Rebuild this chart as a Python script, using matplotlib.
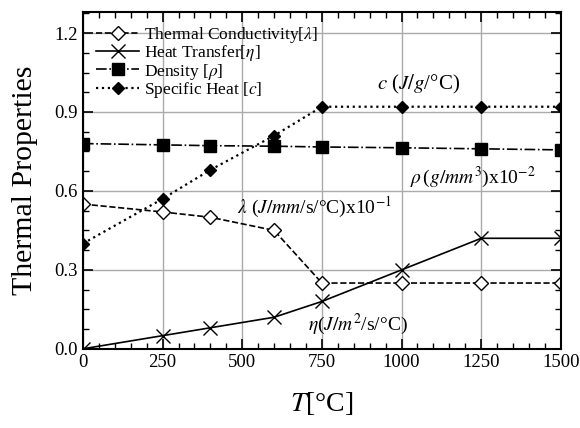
import matplotlib.pyplot as plt
from matplotlib.ticker import MultipleLocator

plt.rcParams["font.family"] = ["Liberation Serif", "DejaVu Serif"]
plt.rcParams["mathtext.fontset"] = "stix"

temps = [0, 250, 400, 600, 750, 1000, 1250, 1500]
conductivity = [0.55, 0.52, 0.50, 0.45, 0.25, 0.25, 0.25, 0.25]
heat_transfer = [0.0, 0.05, 0.08, 0.12, 0.18, 0.30, 0.42, 0.42]
density = [0.78, 0.775, 0.772, 0.77, 0.767, 0.764, 0.76, 0.756]
specific_heat = [0.40, 0.57, 0.68, 0.81, 0.92, 0.92, 0.92, 0.92]

fig = plt.figure(figsize=(5.8, 4.28), dpi=100)
ax = fig.add_axes([0.143, 0.185, 0.824, 0.787])

ax.plot(temps, conductivity, "k--", marker="D", mfc="white", mec="black",
        ms=7, lw=1.2, label=r"Thermal Conductivity[$\lambda$]")
ax.plot(temps, heat_transfer, "k-", marker="x", ms=10, mew=1.0,
        lw=1.2, label=r"Heat Transfer[$\eta$]")
ax.plot(temps, density, "k-.", marker="s", ms=8, lw=1.2,
        label=r"Density [$\rho$]")
ax.plot(temps, specific_heat, "k:", marker="D", ms=6, lw=1.6,
        label=r"Specific Heat [$c$]")

# curve labels with units
ax.text(923, 0.984, r"$c$ ($J/g$/°C)", fontsize=15, va="baseline")
ax.text(1026, 0.63, r"$\rho\,$($g/mm^3$)x10$^{-2}$", fontsize=14,
        va="baseline")
ax.text(483, 0.515, r"$\lambda$ ($J/mm$/s/°C)x10$^{-1}$", fontsize=14,
        va="baseline")
ax.text(706, 0.072, r"$\eta$($J/m^2$/s/°C)", fontsize=14, va="baseline")

ax.set_xlim(0, 1500)
ax.set_ylim(0, 1.28)
ax.xaxis.set_major_locator(MultipleLocator(250))
ax.xaxis.set_minor_locator(MultipleLocator(50))
ax.yaxis.set_major_locator(MultipleLocator(0.3))
ax.yaxis.set_minor_locator(MultipleLocator(0.075))
ax.yaxis.set_major_formatter(plt.FormatStrFormatter("%.1f"))
ax.tick_params(which="both", direction="in", top=True, right=True,
               labelsize=13.5)
ax.tick_params(which="major", length=7, width=1.2)
ax.tick_params(which="minor", length=4, width=1.0)
for s in ax.spines.values():
    s.set_linewidth(1.5)
ax.grid(True, which="major", color="#aaaaaa", lw=1.0)
ax.set_axisbelow(True)

ax.set_xlabel(r"$T$[°C]", fontsize=20, labelpad=14)
ax.set_ylabel("Thermal Properties", fontsize=21.5)
ax.yaxis.set_label_coords(-0.094, 0.5)

ax.legend(loc="upper left", frameon=False, fontsize=12.5, handlelength=2.5,
          handletextpad=0.25, labelspacing=-0.1, borderaxespad=0.55,
          borderpad=0.2)

fig.savefig("out.png", dpi=100)
